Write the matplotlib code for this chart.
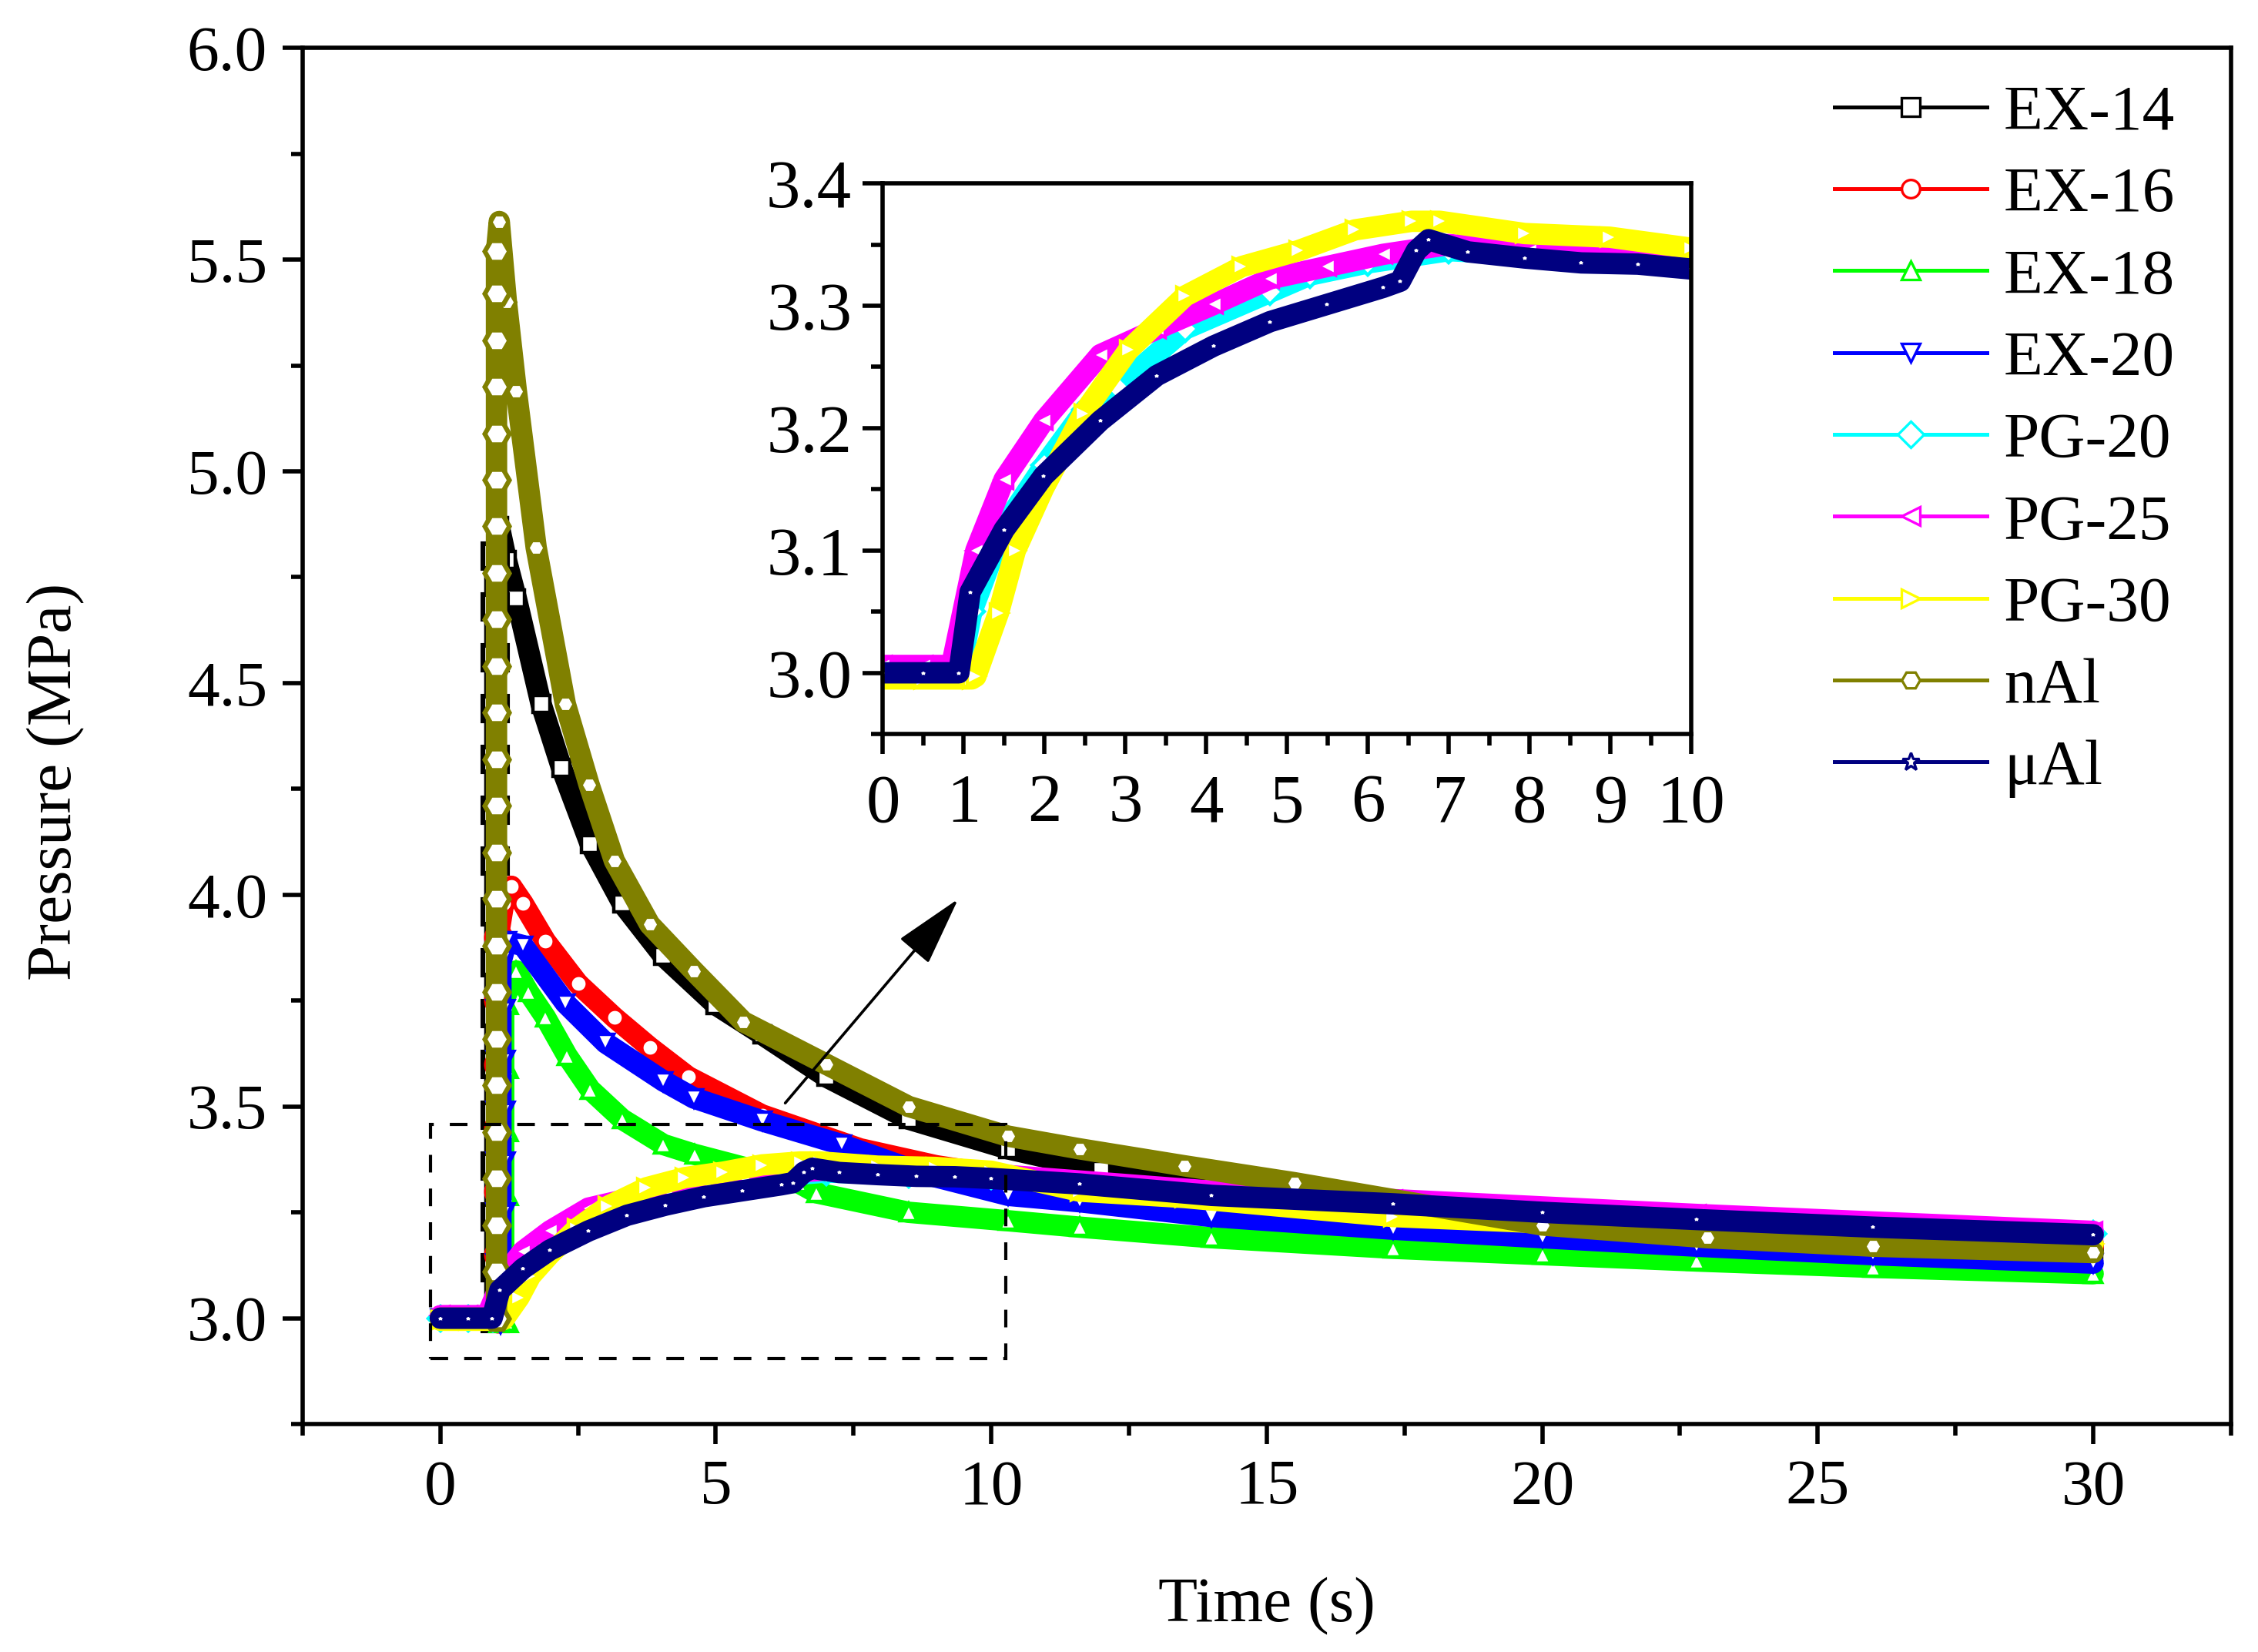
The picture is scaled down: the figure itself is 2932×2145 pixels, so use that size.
import matplotlib
matplotlib.use('Agg')
import matplotlib.pyplot as plt
from matplotlib.lines import Line2D
from matplotlib.patches import Rectangle
from matplotlib.ticker import MultipleLocator, FormatStrFormatter

plt.rcParams['font.family'] = ['Liberation Serif', 'DejaVu Serif']

# values (time in s, pressure in MPa)
ex14_t = [0, 0.5, 0.95, 0.99, 0.99, 0.99, 0.99, 0.99, 0.99, 0.99, 0.99, 0.99, 0.99, 0.99,
          0.99, 0.99, 0.99, 0.99, 0.99, 1.07, 1.2, 1.38, 1.83, 2.2, 2.72, 3.3, 4.05, 5.0,
          5.84, 7.0, 8.5, 10.3, 12, 14, 17, 20, 25, 30]
ex14_p = [3.0, 3.0, 3.0, 3.0, 3.12, 3.24, 3.36, 3.48, 3.60, 3.72, 3.84, 3.96, 4.08, 4.20,
          4.32, 4.44, 4.56, 4.68, 4.80, 4.87, 4.79, 4.70, 4.45, 4.30, 4.12, 3.98, 3.855, 3.74,
          3.67, 3.57, 3.47, 3.40, 3.35, 3.31, 3.26, 3.22, 3.18, 3.16]

ex16_t = [0, 0.5, 0.95, 1.05, 1.05, 1.05, 1.05, 1.05, 1.05, 1.05, 1.15, 1.29, 1.5, 1.91,
          2.5, 3.16, 3.8, 4.5, 5.84, 7.62, 9, 10.5, 12, 15, 20, 25, 30]
ex16_p = [3.0, 3.0, 3.0, 3.0, 3.15, 3.3, 3.45, 3.6, 3.75, 3.9, 3.98, 4.02, 3.98, 3.89,
          3.79, 3.71, 3.64, 3.57, 3.48, 3.40, 3.36, 3.33, 3.31, 3.27, 3.22, 3.19, 3.17]

ex18_t = [0, 0.5, 1.0, 1.15, 1.15, 1.15, 1.15, 1.15, 1.15, 1.38, 1.6, 1.91, 2.3, 2.72,
          3.3, 4.05, 4.61, 5.84, 6.5, 6.83, 8.5, 10.31, 11.6, 14, 17.3, 20, 22.8, 26, 30]
ex18_p = [3.0, 3.0, 3.0, 3.0, 3.15, 3.3, 3.45, 3.6, 3.75, 3.82, 3.77, 3.71, 3.62, 3.54,
          3.47, 3.41, 3.387, 3.345, 3.32, 3.296, 3.25, 3.23, 3.215, 3.19, 3.165, 3.15, 3.135, 3.12, 3.105]

ex20_t = [0, 0.5, 0.95, 1.1, 1.1, 1.1, 1.1, 1.1, 1.1, 1.1, 1.1, 1.2, 1.5, 2.27, 3.0,
          4.05, 4.6, 5.84, 7.28, 8.8, 10.31, 11.6, 14, 17.3, 20, 22.8, 26, 30]
ex20_p = [3.0, 3.0, 3.0, 3.0, 3.12, 3.24, 3.36, 3.48, 3.6, 3.72, 3.84, 3.89, 3.88, 3.744, 3.65,
          3.56, 3.52, 3.466, 3.41, 3.34, 3.29, 3.275, 3.24, 3.21, 3.19, 3.17, 3.15, 3.13]

pg20_t = [0, 0.5, 0.95, 1.1, 1.5, 2.0, 2.5, 2.9, 3.74, 4.79, 5.28, 6.0, 7.0, 8.5, 10,
          14, 17.3, 22.8, 30]
pg20_p = [3.0, 3.0, 3.0, 3.05, 3.12, 3.17, 3.215, 3.233, 3.281, 3.311, 3.325, 3.335, 3.345,
          3.34, 3.335, 3.295, 3.27, 3.235, 3.20]

pg25_t = [0, 0.5, 0.85, 1.15, 1.5, 1.99, 2.69, 3.39, 4.09, 4.79, 5.49, 6.19, 7, 8, 10,
          14, 17.3, 22.8, 30]
pg25_p = [3.006, 3.006, 3.006, 3.10, 3.158, 3.206, 3.26, 3.281, 3.301, 3.322, 3.332, 3.342,
          3.35, 3.345, 3.34, 3.30, 3.28, 3.245, 3.205]

pg30_t = [0, 0.5, 1.1, 1.15, 1.43, 1.64, 1.99, 2.48, 3.04, 3.74, 4.44, 5.14, 5.84, 6.54,
          6.89, 7.94, 8.99, 10, 11.6, 13.5, 17.3, 22.8, 30]
pg30_p = [2.995, 2.995, 2.995, 2.997, 3.049, 3.10, 3.151, 3.212, 3.264, 3.308, 3.332, 3.345,
          3.362, 3.369, 3.369, 3.359, 3.356, 3.347, 3.30, 3.285, 3.24, 3.21, 3.175]

nal_t = [0, 0.5, 0.95, 1.02, 1.02, 1.02, 1.02, 1.02, 1.02, 1.02, 1.02, 1.02, 1.02, 1.02,
         1.02, 1.02, 1.02, 1.02, 1.02, 1.02, 1.02, 1.02, 1.02, 1.02, 1.02, 1.02, 1.02,
         1.07, 1.2, 1.38, 1.74, 2.27, 2.7, 3.16, 3.8, 4.6, 5.5, 7.0, 8.5, 10.3, 11.6,
         13.5, 15.5, 17.3, 20, 23, 26, 30]
nal_p = [3.0, 3.0, 3.0, 3.0, 3.11, 3.22, 3.33, 3.44, 3.55, 3.66, 3.77, 3.88, 3.99, 4.10,
         4.21, 4.32, 4.43, 4.54, 4.65, 4.76, 4.87, 4.98, 5.09, 5.20, 5.31, 5.42, 5.52,
         5.59, 5.40, 5.19, 4.82, 4.45, 4.26, 4.08, 3.93, 3.82, 3.70, 3.60, 3.50, 3.43, 3.40,
         3.36, 3.32, 3.28, 3.22, 3.19, 3.17, 3.155]

ual_t = [0, 0.5, 0.94, 1.08, 1.5, 1.99, 2.69, 3.39, 4.09, 4.79, 5.49, 6.19, 6.4, 6.6, 6.75,
         7.24, 7.94, 8.64, 9.34, 10.0, 11.6, 14, 17.3, 20, 22.8, 26, 30]
ual_p = [3.0, 3.0, 3.0, 3.066, 3.117, 3.161, 3.206, 3.243, 3.267, 3.287, 3.301, 3.315, 3.32,
         3.345, 3.354, 3.344, 3.339, 3.335, 3.334, 3.33, 3.317, 3.29, 3.27, 3.25, 3.233,
         3.215, 3.197]

labels = ['EX-14', 'EX-16', 'EX-18', 'EX-20', 'PG-20', 'PG-25', 'PG-30', 'nAl', 'μAl']
colors = ['#000000', '#ff0000', '#00ff00', '#0000ff', '#00ffff', '#ff00ff', '#ffff00',
          '#808000', '#000080']
markers = ['s', 'o', '^', 'v', 'D', '<', '>', 'H', '*']
series = [(ex14_t, ex14_p), (ex16_t, ex16_p), (ex18_t, ex18_p), (ex20_t, ex20_p),
          (pg20_t, pg20_p), (pg25_t, pg25_p), (pg30_t, pg30_p), (nal_t, nal_p), (ual_t, ual_p)]
# points on the steep ignition rise, where the open symbols stand out
rise = [slice(3, 19), slice(3, 10), slice(3, 9), slice(3, 11), None, None, None,
        slice(3, 27), None]

fig = plt.figure(figsize=(14.66, 10.725), dpi=200)
ax = fig.add_axes([0.134, 0.138, 0.854, 0.833])

for i in range(len(series)):
    t, p = series[i]
    ax.plot(t, p, color=colors[i], lw=10, marker=markers[i], ms=8, mfc='white',
            mec=colors[i], mew=1.6, solid_joinstyle='round', solid_capstyle='round')
    if rise[i] is not None:
        ax.plot(t, p, ls='none', marker=markers[i], ms=11.5, mfc='white',
                mec=colors[i], mew=2.2, markevery=rise[i])

ax.set_xlim(-2.5, 32.5)
ax.set_ylim(2.75, 6.0)
ax.xaxis.set_major_locator(MultipleLocator(5))
ax.xaxis.set_minor_locator(MultipleLocator(2.5))
ax.yaxis.set_major_locator(MultipleLocator(0.5))
ax.yaxis.set_minor_locator(MultipleLocator(0.25))
ax.yaxis.set_major_formatter(FormatStrFormatter('%.1f'))
ax.tick_params(which='major', direction='out', length=9.5, width=2, labelsize=30, pad=7)
ax.tick_params(which='minor', direction='out', length=5.5, width=2)
for s in ax.spines.values():
    s.set_linewidth(2)
ax.set_xlabel('Time (s)', fontsize=30, labelpad=28)
ax.set_ylabel('Pressure (MPa)', fontsize=30)
ax.yaxis.set_label_coords(-0.113, 0.467)

# dashed zoom box and arrow
ax.add_patch(Rectangle((-0.18, 2.905), 10.45, 0.552, fill=False, ec='black', lw=1.5,
                       ls=(0, (5.5, 5)), zorder=5))
ax.annotate('', xy=(9.4, 3.99), xytext=(6.26, 3.508),
            arrowprops=dict(arrowstyle='-|>,head_length=1.1,head_width=0.3',
                            mutation_scale=26, lw=1.3, color='black',
                            shrinkA=0, shrinkB=0), zorder=6)

handles = []
for i in range(len(labels)):
    handles.append(Line2D([], [], color=colors[i], lw=1.8, marker=markers[i], ms=8.5,
                          mfc='white', mec=colors[i], mew=1.2))
ax.legend(handles, labels, loc='upper left', bbox_to_anchor=(0.8124, 0.949),
          bbox_transform=fig.transFigure, frameon=False, fontsize=30,
          handlelength=2.38, handletextpad=0.26, labelspacing=0.36,
          borderpad=0, borderaxespad=0)

# inset
ins = fig.add_axes([0.391, 0.5557, 0.358, 0.3333])
for i in [4, 5, 6, 8]:
    t, p = series[i]
    ins.plot(t, p, color=colors[i], lw=10, marker=markers[i], ms=8, mfc='white',
             mec=colors[i], mew=1.6, solid_joinstyle='round', solid_capstyle='round')
ins.set_xlim(0, 10)
ins.set_ylim(2.95, 3.4)
ins.xaxis.set_major_locator(MultipleLocator(1))
ins.xaxis.set_minor_locator(MultipleLocator(0.5))
ins.yaxis.set_major_locator(MultipleLocator(0.1))
ins.yaxis.set_minor_locator(MultipleLocator(0.05))
ins.yaxis.set_major_formatter(FormatStrFormatter('%.1f'))
ins.tick_params(which='major', direction='out', length=9.5, width=2, labelsize=32, pad=5)
ins.tick_params(axis='x', which='major', pad=9)
ins.tick_params(which='minor', direction='out', length=5.5, width=2)
for s in ins.spines.values():
    s.set_linewidth(2)

fig.savefig('out.png', dpi=200)
